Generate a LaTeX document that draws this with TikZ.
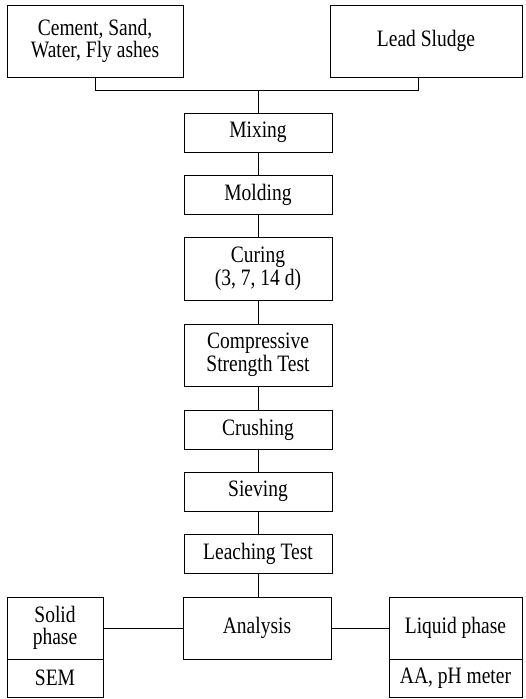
\documentclass[tikz,border=0pt]{standalone}
\usepackage{fontspec}
\setmainfont{Liberation Serif}[FakeStretch=0.83]
\begin{document}
\begin{tikzpicture}[x=1pt,y=-1pt,
  box/.style={draw, line width=0.8pt, inner sep=0pt, align=center,
    font=\fontsize{23.5}{22.5}\selectfont, minimum width=148pt, minimum height=39pt},
  link/.style={draw, line width=0.8pt}]
\useasboundingbox (0,0) rectangle (526,699);
\node[box, minimum width=176pt, minimum height=72pt] (cem) at (95,41) {Cement, Sand,\\Water, Fly ashes};
\node[box, minimum width=192pt, minimum height=72pt] (lead) at (426,41) {Lead Sludge};
\node[box] (mix) at (258,132.5) {Mixing};
\node[box] (mold) at (258,194.5) {Molding};
\node[box, minimum height=63pt] (cure) at (258,268.5) {Curing\\(3, 7, 14 d)};
\node[box, minimum height=62pt] (comp) at (258,355) {Compressive\\Strength Test};
\node[box] (crush) at (258,429.5) {Crushing};
\node[box] (sieve) at (258,491.5) {Sieving};
\node[box] (leach) at (258,553.5) {Leaching Test};
\node[box, minimum height=62pt] (anal) at (257,628) {Analysis};
\node[box, minimum width=96pt, minimum height=62pt] (solid) at (55,628) {Solid\\phase};
\node[box, minimum width=96pt, minimum height=38pt] (sem) at (55,678) {SEM};
\node[box, minimum width=133pt, minimum height=62pt] (liquid) at (455.5,628) {Liquid phase};
\node[box, minimum width=133pt, minimum height=38pt] (aa) at (455.5,678) {AA, pH meter};
\coordinate (jl) at (95,90);
\coordinate (jm) at (258,90);
\coordinate (jr) at (418,90);
\coordinate (lb) at (418,77);
\draw[link] (cem.south) -- (jl) -- (jr) -- (lb);
\draw[link] (jm) -- (mix.north);
\draw[link] (mix) -- (mold);
\draw[link] (mold) -- (cure);
\draw[link] (cure) -- (comp);
\draw[link] (comp) -- (crush);
\draw[link] (crush) -- (sieve);
\draw[link] (sieve) -- (leach);
\draw[link] (leach.south) -- (leach.south |- anal.north);
\draw[link] (solid) -- (anal);
\draw[link] (anal) -- (liquid);
\end{tikzpicture}
\end{document}
